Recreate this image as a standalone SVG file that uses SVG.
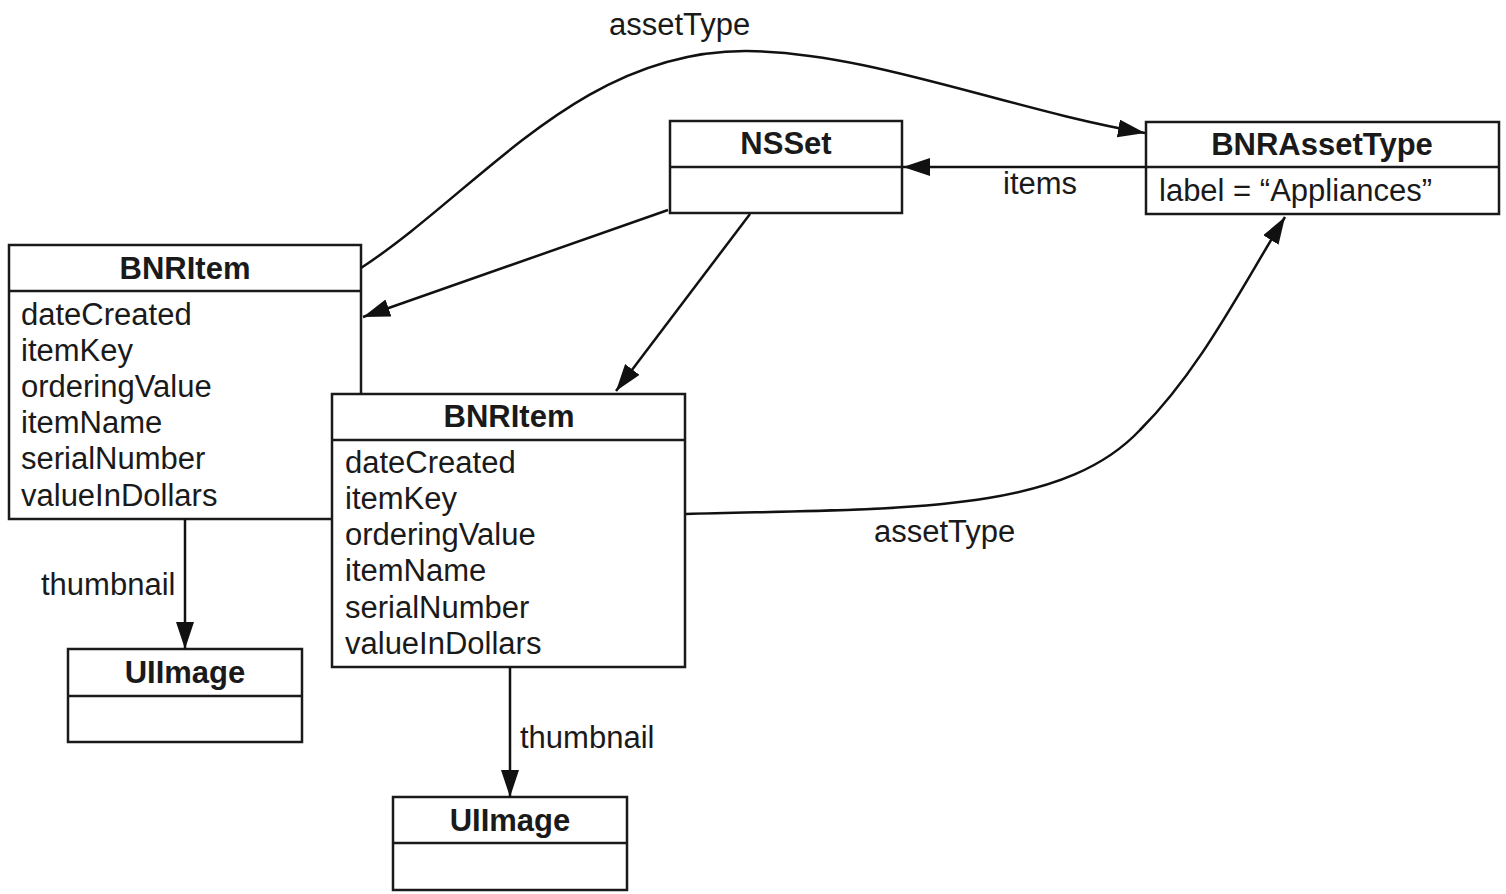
<svg xmlns="http://www.w3.org/2000/svg" width="1506" height="894" viewBox="0 0 1506 894">
  <style>
    .box { fill: #fff; stroke: #1a1a1a; stroke-width: 2.5; }
    .div { stroke: #1a1a1a; stroke-width: 2.5; }
    .title { font-family: "Liberation Sans", Arial, sans-serif; font-weight: bold; font-size: 31px; fill: #1a1a1a; text-anchor: middle; }
    .attr { font-family: "Liberation Sans", Arial, sans-serif; font-size: 31px; fill: #1a1a1a; }
    .lbl { font-family: "Liberation Sans", Arial, sans-serif; font-size: 31px; fill: #1a1a1a; }
    .edge { fill: none; stroke: #111; stroke-width: 2.5; marker-end: url(#arrow); }
  </style>
  <defs>
    <marker id="arrow" markerUnits="userSpaceOnUse" markerWidth="28" markerHeight="20" refX="27" refY="9" orient="auto">
      <path d="M0,0 L27,9 L0,18 z" fill="#111"/>
    </marker>
  </defs>
  <rect width="1506" height="894" fill="#fff"/>

  <!-- BNRItem (left) -->
  <g id="item1">
    <rect class="box" x="9" y="245" width="352" height="274"/>
    <line class="div" x1="9" y1="291" x2="361" y2="291"/>
    <text class="title" x="185" y="279">BNRItem</text>
    <text class="attr" x="21" y="325">dateCreated</text>
    <text class="attr" x="21" y="361">itemKey</text>
    <text class="attr" x="21" y="397">orderingValue</text>
    <text class="attr" x="21" y="433">itemName</text>
    <text class="attr" x="21" y="469">serialNumber</text>
    <text class="attr" x="21" y="506">valueInDollars</text>
  </g>

  <!-- BNRItem (middle), drawn over the left one -->
  <g id="item2">
    <rect class="box" x="332" y="394" width="353" height="273"/>
    <line class="div" x1="332" y1="440" x2="685" y2="440"/>
    <text class="title" x="509" y="427">BNRItem</text>
    <text class="attr" x="345" y="473">dateCreated</text>
    <text class="attr" x="345" y="509">itemKey</text>
    <text class="attr" x="345" y="545">orderingValue</text>
    <text class="attr" x="345" y="581">itemName</text>
    <text class="attr" x="345" y="618">serialNumber</text>
    <text class="attr" x="345" y="654">valueInDollars</text>
  </g>

  <g id="nsset">
    <rect class="box" x="670" y="121" width="232" height="92"/>
    <line class="div" x1="670" y1="167" x2="902" y2="167"/>
    <text class="title" x="786" y="154">NSSet</text>
  </g>

  <g id="assettype">
    <rect class="box" x="1146" y="122" width="353" height="92"/>
    <line class="div" x1="1146" y1="167" x2="1499" y2="167"/>
    <text class="title" x="1322" y="155">BNRAssetType</text>
    <text class="attr" x="1159" y="201">label = “Appliances”</text>
  </g>

  <g id="image1">
    <rect class="box" x="68" y="649" width="234" height="93"/>
    <line class="div" x1="68" y1="696" x2="302" y2="696"/>
    <text class="title" x="185" y="683">UIImage</text>
  </g>

  <g id="image2">
    <rect class="box" x="393" y="797" width="234" height="93"/>
    <line class="div" x1="393" y1="843" x2="627" y2="843"/>
    <text class="title" x="510" y="831">UIImage</text>
  </g>

  <!-- relationships -->
  <g id="connectors">
    <path class="edge" d="M361,268 C480,190 580,50 747,51 C870,52 1010,110 1145,133"/>
    <line class="edge" x1="1146" y1="167" x2="903" y2="167"/>
    <line class="edge" x1="668" y1="210" x2="363" y2="317"/>
    <line class="edge" x1="750" y1="214" x2="616" y2="391"/>
    <path class="edge" d="M686,514 C900,508 1060,515 1140,430 C1200,370 1240,290 1285,217"/>
    <line class="edge" x1="185" y1="519" x2="185" y2="649"/>
    <line class="edge" x1="510" y1="667" x2="510" y2="797"/>
    <text class="lbl" x="609" y="35">assetType</text>
    <text class="lbl" x="1003" y="194">items</text>
    <text class="lbl" x="874" y="542">assetType</text>
    <text class="lbl" x="41" y="595">thumbnail</text>
    <text class="lbl" x="520" y="748">thumbnail</text>
  </g>
</svg>
